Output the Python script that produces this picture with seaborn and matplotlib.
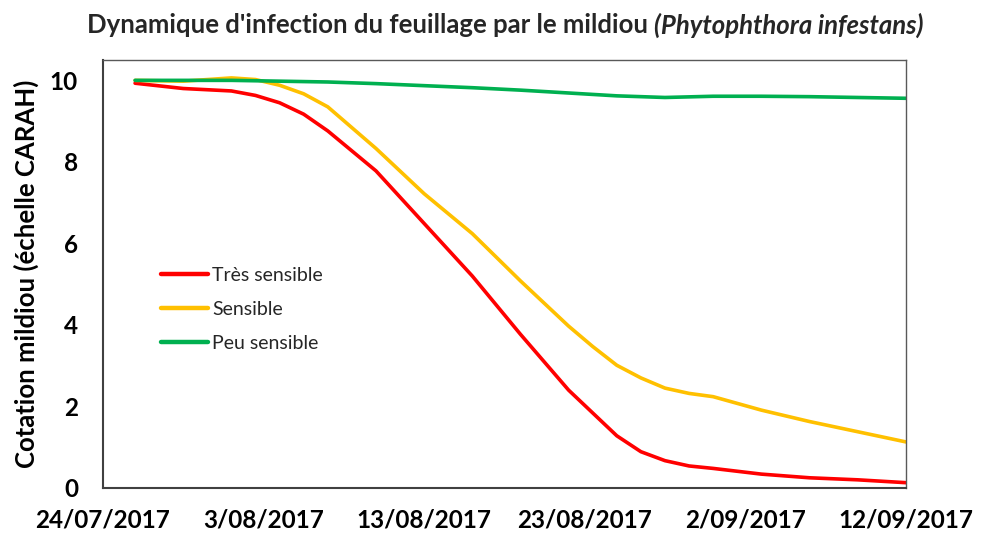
import matplotlib
matplotlib.use('Agg')
import matplotlib.pyplot as plt
import matplotlib.dates as mdates
import pandas as pd
import seaborn as sns

# Données (cotation CARAH, 10 = feuillage sain)
DATES_TS = ['2017-07-26 00:00', '2017-07-29 00:00', '2017-08-01 00:00', '2017-08-02 12:00',
            '2017-08-04 00:00', '2017-08-05 12:00', '2017-08-07 00:00', '2017-08-10 00:00',
            '2017-08-13 00:00', '2017-08-16 00:00', '2017-08-19 00:00', '2017-08-22 00:00',
            '2017-08-23 12:00', '2017-08-25 00:00', '2017-08-26 12:00', '2017-08-28 00:00',
            '2017-08-29 12:00', '2017-08-31 00:00', '2017-09-03 00:00', '2017-09-06 00:00',
            '2017-09-09 00:00', '2017-09-12 00:00']
TRES_SENSIBLE = [9.93, 9.80, 9.74, 9.63, 9.45, 9.17, 8.76, 7.78, 6.49, 5.20, 3.77, 2.40,
                 1.84, 1.28, 0.89, 0.67, 0.54, 0.48, 0.34, 0.25, 0.20, 0.13]
SENSIBLE = [10.0, 9.98, 10.06, 10.02, 9.88, 9.67, 9.35, 8.33, 7.22, 6.24, 5.08, 3.97,
            3.47, 3.01, 2.70, 2.45, 2.32, 2.24, 1.91, 1.63, 1.38, 1.13]

DATES_PS = ['2017-07-26 00:00', '2017-07-29 00:00', '2017-08-01 00:00', '2017-08-04 00:00',
            '2017-08-07 00:00', '2017-08-10 00:00', '2017-08-13 00:00', '2017-08-16 00:00',
            '2017-08-19 00:00', '2017-08-22 00:00', '2017-08-25 00:00', '2017-08-28 00:00',
            '2017-08-31 00:00', '2017-09-03 00:00', '2017-09-06 00:00', '2017-09-09 00:00',
            '2017-09-12 00:00']
PEU_SENSIBLE = [10.0, 10.0, 10.0, 9.98, 9.96, 9.92, 9.87, 9.82, 9.76, 9.69,
                9.62, 9.58, 9.61, 9.61, 9.60, 9.58, 9.56]

SERIES = ['Très sensible', 'Sensible', 'Peu sensible']
COULEURS = ['#FF0000', '#FFC000', '#00B050']
TICKS_X = ['2017-07-24', '2017-08-03', '2017-08-13', '2017-08-23', '2017-09-02', '2017-09-12']
TICKS_Y = [0, 2, 4, 6, 8, 10]

sns.set_theme(style='white')
plt.rcParams['font.family'] = ['Lato', 'DejaVu Sans']

df = pd.DataFrame({
    'date': pd.to_datetime(DATES_TS * 2 + DATES_PS, format='%Y-%m-%d %H:%M'),
    'cotation': TRES_SENSIBLE + SENSIBLE + PEU_SENSIBLE,
    'serie': [SERIES[0]] * len(DATES_TS) + [SERIES[1]] * len(DATES_TS) + [SERIES[2]] * len(DATES_PS),
})

fig = plt.figure(figsize=(9.9, 5.36), dpi=100)
ax = fig.add_axes([0.104, 0.0896, 0.811, 0.7985])

sns.lineplot(data=df, x='date', y='cotation', hue='serie', hue_order=SERIES,
             palette=COULEURS, linewidth=2.6, ax=ax, legend=False,
             solid_joinstyle='round', solid_capstyle='round')

ax.set_xlim(pd.Timestamp('2017-07-24'), pd.Timestamp('2017-09-12'))
ax.set_ylim(0, 10.5)
ax.set_xticks(pd.to_datetime(TICKS_X))
ax.xaxis.set_major_formatter(
    matplotlib.ticker.FuncFormatter(lambda v, p: f"{mdates.num2date(v).day}/{mdates.num2date(v):%m/%Y}"))
ax.set_yticks(TICKS_Y)
ax.tick_params(axis='x', length=0, pad=15, labelsize=17.5, labelcolor='black')
ax.tick_params(axis='y', direction='in', length=6, width=1.2, color='#404040',
               pad=18, labelsize=17.5, labelcolor='black')
for lab in ax.get_xticklabels() + ax.get_yticklabels():
    lab.set_fontweight('bold')

ax.set_xlabel('')
ax.set_ylabel('Cotation mildiou (échelle CARAH)', fontsize=18.5, fontweight='bold',
              color='black', labelpad=8)

for cote in ['left', 'bottom']:
    ax.spines[cote].set_color('#404040')
    ax.spines[cote].set_linewidth(1.5)
for cote in ['top', 'right']:
    ax.spines[cote].set_color('#595959')
    ax.spines[cote].set_linewidth(1.0)

# Légende manuelle à l'intérieur du graphique
poignees = [plt.Line2D([], [], color=c, linewidth=3.2, solid_capstyle='round') for c in COULEURS]
ax.legend(poignees, SERIES, loc='upper left', bbox_to_anchor=(0.051, 0.557), frameon=False,
          fontsize=14, handlelength=2.4, handletextpad=0.2, labelspacing=0.88)

# Titre en deux parties (nom latin en italique)
t1 = fig.text(0.0, 0.953, "Dynamique d'infection du feuillage par le mildiou ",
              fontsize=18.5, fontweight='bold', va='center', ha='left')
t2 = fig.text(0.0, 0.953, "(Phytophthora infestans)", fontsize=18.5, fontweight='bold',
              fontstyle='italic', va='center', ha='left')
fig.canvas.draw()
r = fig.canvas.get_renderer()
w1 = t1.get_window_extent(r).width / fig.bbox.width
w2 = t2.get_window_extent(r).width / fig.bbox.width
x0 = 0.51 - (w1 + w2) / 2
t1.set_x(x0)
t2.set_x(x0 + w1)

fig.savefig('out.png', dpi=100, facecolor='white')
plt.close(fig)
